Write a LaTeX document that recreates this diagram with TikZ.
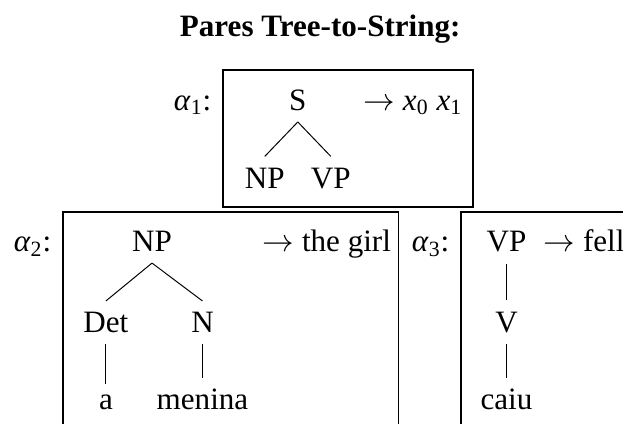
\documentclass[tikz,border=0pt]{standalone}
\usepackage{fontspec}
\setmainfont{Liberation Serif}
\usepackage{tikz}
\usetikzlibrary{positioning}

% rule label: italic alpha with index and colon
\newcommand{\alab}[1]{\textit{α}\textsubscript{#1}:}
\newcommand{\xv}[1]{\textit{x}\textsubscript{#1}}

\begin{document}
\begin{tikzpicture}[
  font=\fontsize{14.2}{17}\selectfont,
  syn/.style={inner sep=5pt,anchor=base},
  lab/.style={inner sep=0pt,anchor=base east},
  rhs/.style={inner sep=0pt,anchor=base west},
  branch/.style={line width=0.45pt},
  rulebox/.style={line width=0.7pt}
]
\clip (0,0) rectangle (10,-6.79);

%% ── title ──
\node[inner sep=0pt,anchor=base] (title) at (5.14,-0.59)
  {\textbf{Pares Tree-to-String:}};

%% ── alpha_1 : S -> x0 x1 ──
\draw[rulebox] (3.58,-1.12) rectangle (7.59,-3.32);
\node[lab] (a1)  at (3.40,-1.77) {\alab{1}};
\node[syn] (S)   at (4.78,-1.77) {S};
\node[rhs] (r1)  at (5.83,-1.77) {$\rightarrow$ \xv{0} \xv{1}};
\node[syn] (NPa) at (4.25,-3.02) {NP};
\node[syn] (VPa) at (5.31,-3.02) {VP};
\draw[branch] (S.south) -- (NPa.north);
\draw[branch] (S.south) -- (VPa.north);

%% ── alpha_2 : NP -> the girl ──
\draw[rulebox] (1.01,-7.20) -- (1.01,-3.40) -- (6.40,-3.40) -- (6.40,-7.20);
\node[lab] (a2)  at (0.83,-4.04) {\alab{2}};
\node[syn] (NPb) at (2.44,-4.04) {NP};
\node[rhs] (r2)  at (4.21,-4.04) {$\rightarrow$ the girl};
\node[syn] (Det) at (1.70,-5.34) {Det};
\node[syn] (N)   at (3.25,-5.34) {N};
\node[syn] (wa)  at (1.70,-6.58) {a};
\node[syn] (wm)  at (3.25,-6.58) {menina};
\draw[branch] (NPb.south) -- (Det.north);
\draw[branch] (NPb.south) -- (N.north);
\draw[branch] (Det) -- (wa);
\draw[branch] (N) -- (wm);

%% ── alpha_3 : VP -> fell ──
\draw[rulebox] (7.40,-7.20) -- (7.40,-3.40) -- (10.50,-3.40);
\node[lab] (a3)  at (7.22,-4.04) {\alab{3}};
\node[syn] (VPc) at (8.13,-4.04) {VP};
\node[rhs] (r3)  at (8.72,-4.04) {$\rightarrow$ fell};
\node[syn] (V)   at (8.13,-5.33) {V};
\node[syn] (wc)  at (8.13,-6.58) {caiu};
\draw[branch] (VPc) -- (V);
\draw[branch] (V) -- (wc);

\end{tikzpicture}
\end{document}
